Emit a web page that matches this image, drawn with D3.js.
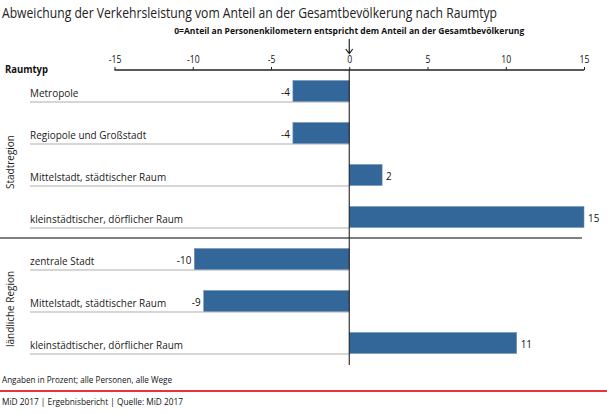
<!DOCTYPE html>
<html><head><meta charset="utf-8">
<script src="https://cdn.jsdelivr.net/npm/d3@7"></script>
<style>
html,body{margin:0;padding:0;background:#fff;}
svg{display:block;font-family:"Open Sans",sans-serif;}
</style></head>
<body>
<svg id="c" width="607" height="414"></svg>
<script>
const title = "Abweichung der Verkehrsleistung vom Anteil an der Gesamtbevölkerung nach Raumtyp";
const subtitle = "0=Anteil an Personenkilometern entspricht dem Anteil an der Gesamtbevölkerung";
const categories = ["Metropole","Regiopole und Großstadt","Mittelstadt, städtischer Raum","kleinstädtischer, dörflicher Raum","zentrale Stadt","Mittelstadt, städtischer Raum","kleinstädtischer, dörflicher Raum"];
const groupOf = ["Stadtregion","Stadtregion","Stadtregion","Stadtregion","ländliche Region","ländliche Region","ländliche Region"];
const groups = ["Stadtregion","ländliche Region"];
const values = [-3.6,-3.6,2.1,15,-9.9,-9.3,10.7];
const xTicks = [-15,-10,-5,0,5,10,15];
const note = "Angaben in Prozent; alle Personen, alle Wege";
const source = "MiD 2017 | Ergebnisbericht | Quelle: MiD 2017";

const svg = d3.select("#c");
const x = d3.scaleLinear().domain([-15,15]).range([114.5,584]);
const ids = categories.map((d,i)=>i);
const y = d3.scaleBand().domain(ids).range([70,364]).paddingInner(0.5).paddingOuter(0.25);
const bw = y.bandwidth();
const CONDENSE = 0.86;

function squeeze(sel, size, factor){
  sel.style("font-size",size+"px");
  sel.each(function(){
    const w = this.getComputedTextLength();
    d3.select(this).attr("textLength",w*factor).attr("lengthAdjust","spacingAndGlyphs");
  });
  return sel;
}
function fitTo(sel, size, target){
  sel.style("font-size",size+"px");
  sel.attr("textLength",target).attr("lengthAdjust","spacingAndGlyphs");
  return sel;
}

// title
fitTo(svg.append("text").attr("x",2).attr("y",18).attr("fill","#222").text(title), 14.5, 495);
// subtitle
fitTo(svg.append("text").attr("x",x(0)-175).attr("y",34).attr("font-weight","bold").attr("fill","#111").text(subtitle), 9.6, 350);
// arrow
svg.append("path").attr("d",`M${x(0)},39V53M${x(0)-3.5},49L${x(0)},53.5L${x(0)+3.5},49`).attr("fill","none").attr("stroke","#111").attr("stroke-width",1.1);

// axis
const axis = d3.axisTop(x).tickValues(xTicks).tickSize(3).tickPadding(4);
const ag = svg.append("g").attr("transform","translate(0,70)").call(axis);
ag.select(".domain").attr("stroke","#222").attr("stroke-width",1.3).attr("d",`M${x(-15)},0H${x(15)}`);
ag.selectAll(".tick line").attr("stroke","#222");
ag.selectAll(".tick text").attr("fill","#111").style("font-family","'Open Sans',sans-serif")
  .text(d=>d<0?"-"+Math.abs(d):String(d));
squeeze(ag.selectAll(".tick text"),10,CONDENSE);

// Raumtyp
fitTo(svg.append("text").attr("x",5).attr("y",73).attr("font-weight","bold").attr("fill","#111").text("Raumtyp"), 11, 43);

// gridlines
svg.selectAll(".grid").data(ids).join("line")
  .attr("x1",30).attr("x2",x(0))
  .attr("y1",d=>y(d)+bw+0.5).attr("y2",d=>y(d)+bw+0.5)
  .attr("stroke","#c9c9c9").attr("stroke-width",1.5);

// category labels
const labs = svg.selectAll(".cat").data(ids).join("text")
  .attr("x",30).attr("y",d=>y(d)+bw-5).attr("fill","#1a1a1a").text(d=>categories[d]).style("font-size","11.5px");
const natLongest = labs.filter(d=>d===3).node().getComputedTextLength();
const catFactor = 153/natLongest;
squeeze(labs,11.5,catFactor);

// bars
svg.selectAll(".bar").data(ids).join("rect")
  .attr("x",d=>x(Math.min(0,values[d]))).attr("width",d=>Math.abs(x(values[d])-x(0)))
  .attr("y",d=>y(d)).attr("height",bw)
  .attr("fill","#336699").attr("stroke","#6f93b8").attr("stroke-width",0.6);

// value labels
const vals = svg.selectAll(".val").data(ids).join("text")
  .attr("x",d=>values[d]<0? x(values[d])-3 : x(values[d])+4)
  .attr("y",d=>y(d)+bw/2+4.5)
  .attr("text-anchor",d=>values[d]<0?"end":"start")
  .attr("fill","#111")
  .text(d=>String(Math.round(values[d])));
squeeze(vals,11.5,CONDENSE);

// divider between groups
const divY = (y(3)+bw + y(4))/2;
svg.append("line").attr("x1",0).attr("x2",582).attr("y1",divY).attr("y2",divY).attr("stroke","#555").attr("stroke-width",1.5);

// zero line
svg.append("line").attr("x1",x(0)).attr("x2",x(0)).attr("y1",70).attr("y2",365).attr("stroke","#222").attr("stroke-width",1.1);

// group labels
groups.forEach(g=>{
  const idx = ids.filter(i=>groupOf[i]===g);
  const cy = (y(idx[0]) + y(idx[idx.length-1])+bw)/2 + 8;
  const t = svg.append("text").attr("transform",`translate(14,${cy}) rotate(-90)`)
    .attr("text-anchor","middle").attr("fill","#1a1a1a").text(g);
  squeeze(t,11.5,catFactor);
});

// footer
fitTo(svg.append("text").attr("x",2).attr("y",383).attr("fill","#111").text(note), 8.6, 170);
svg.append("line").attr("x1",0).attr("x2",607).attr("y1",391).attr("y2",391).attr("stroke","#e8333c").attr("stroke-width",2);
fitTo(svg.append("text").attr("x",2).attr("y",405).attr("fill","#111").text(source), 8.6, 181);
</script>
</body></html>
